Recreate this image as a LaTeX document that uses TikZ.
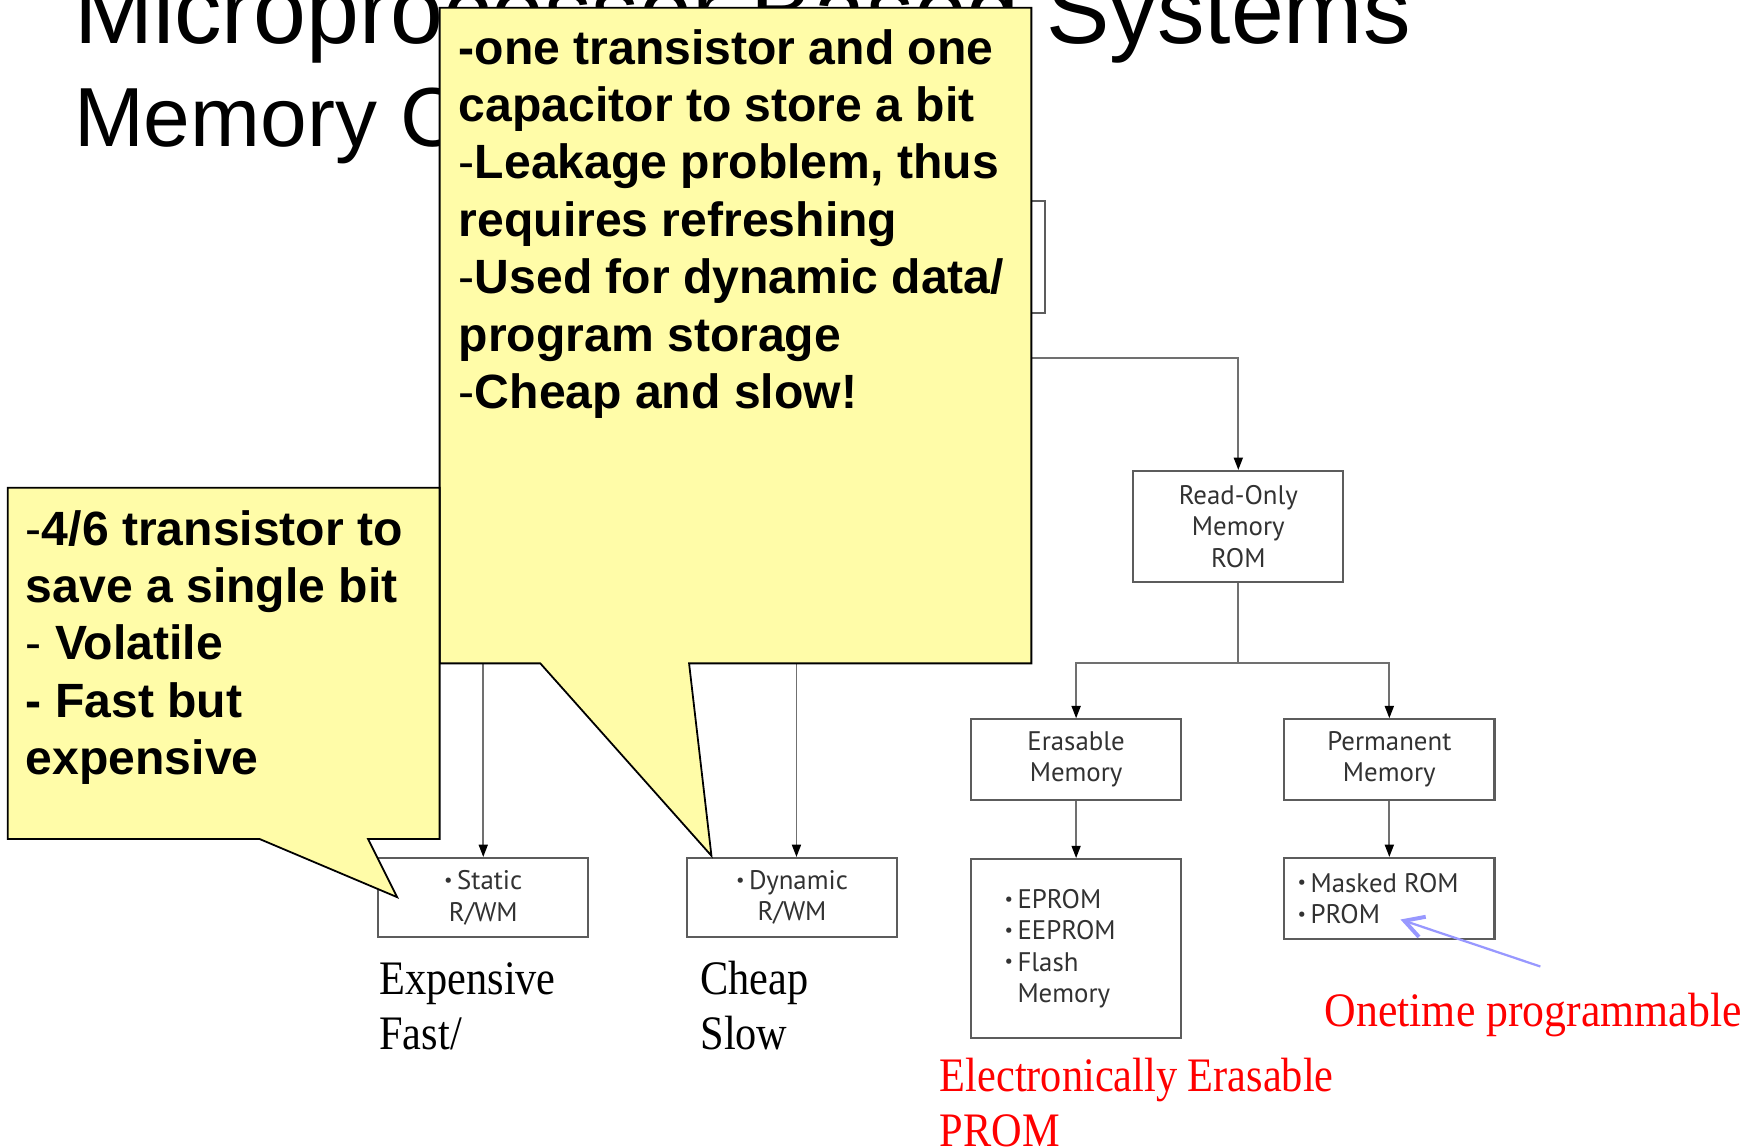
\documentclass[tikz,border=0pt]{standalone}
\usepackage{fontspec}
\usepackage{graphicx}
\setmainfont{Liberation Serif}
\newfontfamily\arialfont{Liberation Sans}
\newfontfamily\labelfont{PT Sans}
\usetikzlibrary{arrows.meta}

\definecolor{noteyellow}{RGB}{255,252,168}
\definecolor{boxline}{RGB}{92,92,92}
\definecolor{linkgray}{RGB}{112,112,112}
\definecolor{boxtext}{RGB}{50,50,50}
\definecolor{pointerblue}{RGB}{152,152,255}

% small list bullet used inside the memory boxes
\newcommand\bul{\raisebox{0.12em}{\scalebox{0.7}{\textbullet}}\,}
% condensed serif for the hand-written annotations
\newcommand\narrowserif[2][0.88]{\scalebox{#1}[1]{#2}}

\tikzset{
  memorybox/.style={draw=boxline, line width=1.8pt, minimum width=188pt,
    inner sep=0pt, text=boxtext,
    font=\labelfont\fontsize{24}{28}\selectfont},
  link/.style={draw=linkgray, line width=1.6pt},
  downarrow/.style={link, -{Triangle[length=11pt,width=8pt,color=black]}},
  callout/.style={fill=noteyellow, draw=black, line width=1.6pt, line join=miter},
  notetext/.style={anchor=north west, inner sep=0pt, align=left,
    font=\arialfont\bfseries\fontsize{43}{51.3}\selectfont},
  annot/.style={anchor=base west, inner sep=0pt,
    font=\fontsize{43}{49}\selectfont},
  redannot/.style={annot, text=red},
  pointer/.style={draw=pointerblue, line width=2pt,
    -{Straight Barb[length=17pt,width=19pt,line width=3.5pt]}},
}

\begin{document}
\begin{tikzpicture}[x=1pt, y=-1pt]
  \useasboundingbox (0,0) rectangle (1568,1026);
  \clip (0,0) rectangle (1568,1026);
  \fill[white] (0,0) rectangle (1568,1026);

  % slide title
  \node[anchor=base west, inner sep=0pt, font=\arialfont\fontsize{85}{95}\selectfont]
    (title) at (66,39) {Microprocessor Based Systems};
  \node[anchor=base west, inner sep=0pt, font=\arialfont\fontsize{75}{85}\selectfont]
    (subtitle) at (66,131) {Memory C};

  % memory classification tree
  \node[memorybox, minimum height=100pt] (top) at (840,230) {};
  \node[memorybox, minimum height=99pt, align=center] (rom) at (1107,470.5)
    {Read-Only\\Memory\\ROM};
  \node[memorybox, minimum height=71pt, align=center] (static) at (432,802.5)
    {\bul Static\\R/WM};
  \node[memorybox, minimum height=71pt, align=center] (dynamic) at (708,802.5)
    {\bul Dynamic\\R/WM};
  \node[memorybox, minimum height=72pt, align=center] (erasable) at (962,679)
    {Erasable\\Memory};
  \node[memorybox, minimum height=72pt, align=center] (permanent) at (1242,679)
    {Permanent\\Memory};
  \node[memorybox, minimum height=160pt] (eprom) at (962,848)
    {\parbox{128pt}{\raggedright\bul EPROM\\\bul EEPROM\\\bul Flash\\\phantom{\bul}Memory}};
  \node[memorybox, minimum height=72pt] (masked) at (1242,803)
    {\parbox{164pt}{\raggedright\bul Masked ROM\\\bul PROM}};

  \coordinate (upperfork) at (840,320);
  \coordinate (rwmfork) at (571,560);
  \coordinate (romfork) at (1107,593);

  \draw[link] (top.south) -- (upperfork);
  \draw[downarrow] (upperfork) -| (rom.north);
  \draw[link] (upperfork) -| (rwmfork);
  \draw[downarrow] (rwmfork) -| (static.north);
  \draw[downarrow] (rwmfork) -| ([xshift=4pt]dynamic.north);
  \draw[link] (rom.south) -- (romfork);
  \draw[downarrow] (romfork) -| (erasable.north);
  \draw[downarrow] (romfork) -| (permanent.north);
  \draw[downarrow] (erasable.south) -- (eprom.north);
  \draw[downarrow] (permanent.south) -- (masked.north);

  % annotations under the boxes
  \node[annot] (expensive) at (339,889) {\narrowserif{Expensive}};
  \node[annot] (fast) at (339,938) {\narrowserif{Fast/}};
  \node[annot] (cheap) at (626,889) {\narrowserif{Cheap}};
  \node[annot] (slow) at (626,938) {\narrowserif{Slow}};
  \node[redannot] (eeprom1) at (840,976) {\narrowserif{Electronically Erasable}};
  \node[redannot] (eeprom2) at (840,1025) {\narrowserif{PROM}};
  \node[redannot] (otp) at (1184,918) {\narrowserif[0.91]{Onetime programmable}};

  \coordinate (otptail) at (1377,864);
  \coordinate (promtip) at (1252,822);
  \draw[pointer] (otptail) -- (promtip);

  % DRAM speech bubble
  \draw[callout] (393,7) -- (922,7) -- (922,593) -- (616,593) -- (636,765)
    -- (483,593) -- (393,593) -- cycle;
  \node[notetext] (dramnote) at (410,26)
    {-one transistor and one\\
     capacitor to store a bit\\
     {\mdseries -}Leakage problem, thus\\
     requires refreshing\\
     {\mdseries -}Used for dynamic data/\\
     program storage\\
     {\mdseries -}Cheap and slow!};

  % SRAM speech bubble
  \draw[callout] (7,436) -- (393,436) -- (393,750) -- (329,750) -- (355,802)
    -- (232,750) -- (7,750) -- cycle;
  \node[notetext] (sramnote) at (23,456)
    {{\mdseries -}4/6 transistor to\\
     save a single bit\\
     {\mdseries -} Volatile\\
     - Fast but\\
     expensive};
\end{tikzpicture}
\end{document}
